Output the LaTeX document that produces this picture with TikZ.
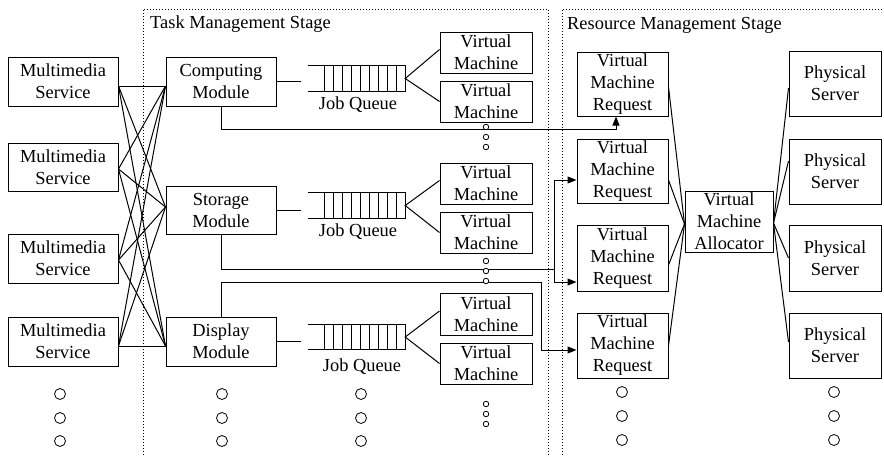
\documentclass[tikz,border=0pt]{standalone}
\usepackage{fontspec}
\setmainfont{Liberation Serif}
\usetikzlibrary{arrows.meta,calc}
\begin{document}
\begin{tikzpicture}[x=1pt,y=-1pt,
  box/.style={draw, line width=1pt, inner sep=0pt, align=center,
              font=\fontsize{18.4}{22}\selectfont},
  lbl/.style={inner sep=0pt, font=\fontsize{18.4}{22}\selectfont},
  link/.style={line width=1pt},
  arr/.style={line width=1pt, -{Triangle[length=9pt,width=7pt]}},
  frame/.style={line width=0.8pt, dash pattern=on 0.8pt off 2.2pt},
  bigdot/.style={draw, circle, minimum size=11pt, inner sep=0pt, line width=0.8pt, fill=white},
  smalldot/.style={draw, circle, minimum size=5.5pt, inner sep=0pt, line width=0.8pt, fill=white},
  qslot/.style={minimum width=97pt, minimum height=25pt, inner sep=0pt}]
\useasboundingbox (0,0) rectangle (884,456);

% stage frames
\draw[frame] (143,470) |- (548,9) -- (548,470);
\draw[frame] (562,470) |- (900,9);
\node[lbl, anchor=base west] (tms) at (150,28) {Task Management Stage};
\node[lbl, anchor=base west] (rms) at (567,29) {Resource Management Stage};

% multimedia services
\foreach \n/\y/\h in {ms1/81.5/49, ms2/167/48, ms3/258.5/49, ms4/341.5/49}
  \node[box, minimum width=110pt, minimum height=\h pt] (\n) at (63,\y) {Multimedia\\Service};

% modules
\node[box, minimum width=110pt, minimum height=49pt] (comp) at (221,81.5) {Computing\\Module};
\node[box, minimum width=110pt, minimum height=48pt] (stor) at (221,210) {Storage\\Module};
\node[box, minimum width=110pt, minimum height=49pt] (disp) at (221,341.5) {Display\\Module};

% services to modules
\foreach \s/\a in {ms1/-4.5, ms2/-2, ms3/-1.5, ms4/-4.5}
  \foreach \m/\b in {comp/-4.5, stor/3, disp/-4.5}
    \draw[link] ([yshift=\a pt]\s.east) -- ([yshift=\b pt]\m.west);

% job queues
\foreach \q/\y in {q1/78.5, q2/205.5, q3/337} {
  \node[qslot] (\q) at (356.5,\y) {};
  \draw[link] (\q.north west) -- (\q.north east) -- (\q.south east) -- (\q.south west);
  \foreach \k in {0,...,8}
    \draw[link] ($(\q.north west)+(17+8.9*\k,0)$) -- ($(\q.south west)+(17+8.9*\k,0)$);
}
\node[lbl] (jq1) at (358,105) {Job Queue};
\node[lbl] (jq2) at (358,232) {Job Queue};
\node[lbl] (jq3) at (362,367) {Job Queue};

\coordinate (q1in) at (301,78.5);
\coordinate (q2in) at (301,205.5);
\coordinate (q3in) at (301,337);
\draw[link] (comp.east) -- (comp.east -| q1in);
\draw[link] (stor.east) -- (stor.east -| q2in);
\draw[link] (disp.east) -- (disp.east -| q3in);

% virtual machines
\foreach \n/\y/\h in {vm1/52.5/41, vm2/101.5/41, vm3/183.5/41, vm4/232.5/41, vm5/314/42, vm6/363.5/41}
  \node[box, minimum width=92pt, minimum height=\h pt] (\n) at (486,\y) {Virtual\\Machine};
\draw[link] ([yshift=3pt]vm1.west) -- (q1.east) -- (vm2.west);
\draw[link] ([yshift=3pt]vm3.west) -- (q2.east) -- (vm4.west);
\draw[link] ([yshift=3pt]vm5.west) -- (q3.east) -- (vm6.west);

% virtual machine requests
\foreach \n/\y/\h in {vmr1/84/64, vmr2/171/64, vmr3/258/66, vmr4/345.5/65}
  \node[box, minimum width=91pt, minimum height=\h pt] (\n) at (622.5,\y) {Virtual\\Machine\\Request};

% allocator and physical servers
\node[box, minimum width=88pt, minimum height=61pt] (alloc) at (729,221.5) {Virtual\\Machine\\Allocator};
\foreach \n/\y/\h in {ps1/83.5/65, ps2/171.5/65, ps3/258/66, ps4/345.5/65}
  \node[box, minimum width=92pt, minimum height=\h pt] (\n) at (835,\y) {Physical\\Server};

\foreach \r/\a in {vmr1/-3, vmr2/-9, vmr3/-7, vmr4/0}
  \draw[link] ([yshift=\a pt]\r.east) -- ([yshift=-2.5pt]alloc.west);
\foreach \p/\a in {ps1/-4.5, ps2/10.5, ps3/0, ps4/3.5}
  \draw[link] ([yshift=-1.5pt]alloc.east) -- ([yshift=\a pt]\p.west);

% module requests
\draw[arr] (comp.south) -- ++(0,23) -| ([xshift=-6.5pt]vmr1.south);
\coordinate (sj) at (554,269);
\draw[link] (stor.south) |- (sj);
\draw[arr] (sj) |- ([yshift=-9pt]vmr2.west);
\draw[arr] (sj) |- ([yshift=-24pt]vmr3.west);
\coordinate (dj) at (541,282);
\draw[link] (disp.north) |- (dj);
\draw[arr] (dj) |- ([yshift=-4.5pt]vmr4.west);

% continuation marks
\foreach \y [count=\i] in {127,137,147}
  \node[smalldot] (sa\i) at (486,\y) {};
\foreach \y [count=\i] in {261,271,281}
  \node[smalldot] (sb\i) at (486,\y) {};
\foreach \y [count=\i] in {404,414,424}
  \node[smalldot] (sc\i) at (486,\y) {};
\foreach \x [count=\j] in {60,222,361}
  \foreach \y [count=\i] in {394,418,441}
    \node[bigdot] (ba\j\i) at (\x,\y) {};
\foreach \x [count=\j] in {622,834}
  \foreach \y [count=\i] in {392,416,440}
    \node[bigdot] (bb\j\i) at (\x,\y) {};
\end{tikzpicture}
\end{document}
